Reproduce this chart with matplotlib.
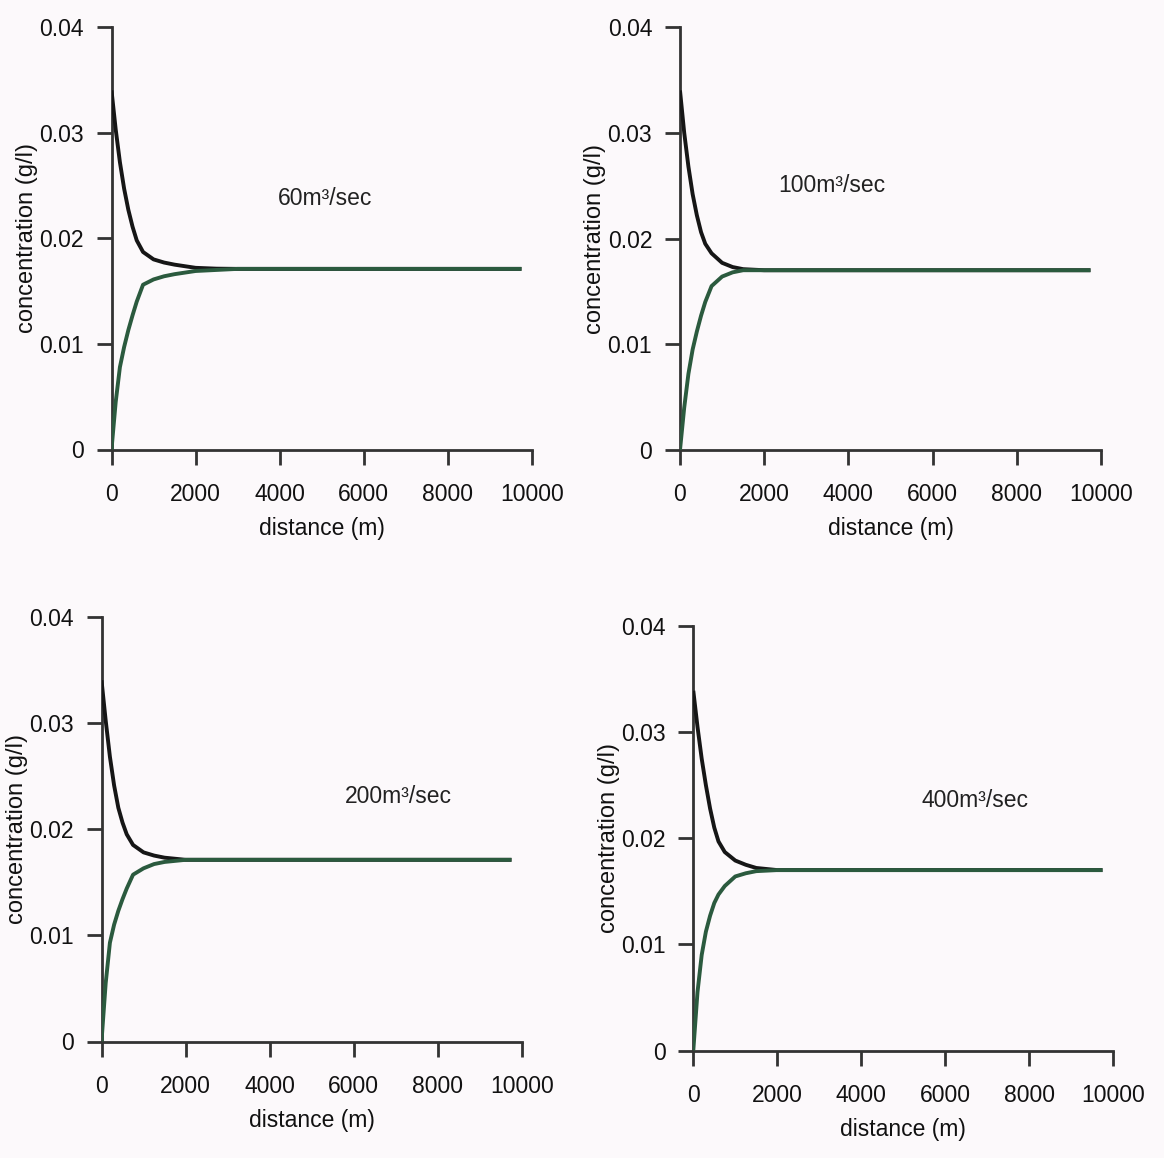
import matplotlib
matplotlib.use("Agg")
import matplotlib.pyplot as plt

plt.rcParams['font.family'] = ['Liberation Sans', 'DejaVu Sans']

distance = [0, 100, 200, 300, 400, 500, 600, 750, 1000, 1250, 1500, 2000,
            2500, 3000, 4000, 6000, 8000, 9750]

flow_labels = ["60m³/sec", "100m³/sec", "200m³/sec", "400m³/sec"]

upper_60 = [0.0340, 0.0303, 0.0272, 0.0247, 0.0227, 0.0211, 0.0198, 0.0187, 0.0180,
            0.0177, 0.0175, 0.0172, 0.01712, 0.0171, 0.0171, 0.0171, 0.0171, 0.0171]
lower_60 = [0.0, 0.0045, 0.0078, 0.0097, 0.0113, 0.0127, 0.0140, 0.0156, 0.0161,
            0.0164, 0.0166, 0.0169, 0.0170, 0.0171, 0.0171, 0.0171, 0.0171, 0.0171]

upper_100 = [0.0340, 0.0300, 0.0268, 0.0242, 0.0222, 0.0206, 0.0195, 0.0186, 0.0177,
             0.0173, 0.0171, 0.0170, 0.0170, 0.0170, 0.0170, 0.0170, 0.0170, 0.0170]
lower_100 = [0.0, 0.0040, 0.0072, 0.0095, 0.0112, 0.0127, 0.0140, 0.0155, 0.0164,
             0.0168, 0.0170, 0.0170, 0.0170, 0.0170, 0.0170, 0.0170, 0.0170, 0.0170]

upper_200 = [0.0340, 0.0302, 0.0268, 0.0241, 0.0220, 0.0206, 0.0195, 0.0185, 0.0178,
             0.0175, 0.0173, 0.0171, 0.0171, 0.0171, 0.0171, 0.0171, 0.0171, 0.0171]
lower_200 = [0.0, 0.0055, 0.0093, 0.0110, 0.0123, 0.0134, 0.0144, 0.0157, 0.0163,
             0.0167, 0.0169, 0.0171, 0.0171, 0.0171, 0.0171, 0.0171, 0.0171, 0.0171]

upper_400 = [0.0339, 0.0305, 0.0275, 0.0250, 0.0228, 0.0210, 0.0197, 0.0187, 0.0179,
             0.0175, 0.0172, 0.0170, 0.0170, 0.0170, 0.0170, 0.0170, 0.0170, 0.0170]
lower_400 = [0.0, 0.0055, 0.0090, 0.0112, 0.0127, 0.0139, 0.0147, 0.0155, 0.0164,
             0.0167, 0.0169, 0.0170, 0.0170, 0.0170, 0.0170, 0.0170, 0.0170, 0.0170]

x_ticks = [0, 2000, 4000, 6000, 8000, 10000]
y_ticks = [0, 0.01, 0.02, 0.03, 0.04]
y_tick_labels = ["0", "0.01", "0.02", "0.03", "0.04"]

uppers = [upper_60, upper_100, upper_200, upper_400]
lowers = [lower_60, lower_100, lower_200, lower_400]
label_pos = [(5077, 0.0238), (3610, 0.0250), (7051, 0.0231), (6712, 0.0236)]

W, H = 1164, 1158
fig = plt.figure(figsize=(W / 100, H / 100), dpi=100)
bg = "#fcf9fb"
fig.patch.set_facecolor(bg)

# axes rectangles in pixel coords: (x0, x1, y_top, y_bottom)
rects = [(111.5, 532, 27, 449.5), (680, 1101, 27, 450),
         (101.5, 522, 616.5, 1041.5), (693.3, 1113, 626, 1050.5)]

axis_col = "#333333"
txt_col = "#111111"
fs = 16.5
for i, (x0, x1, yt, yb) in enumerate(rects):
    ax = fig.add_axes([x0 / W, 1 - yb / H, (x1 - x0) / W, (yb - yt) / H])
    ax.set_facecolor("none")
    ax.plot(distance, uppers[i], color="#161616", lw=2.8, solid_capstyle="butt", zorder=3)
    ax.plot(distance, lowers[i], color="#2b5a3e", lw=2.8, solid_capstyle="butt", zorder=3)
    ax.set_xlim(0, 10000)
    ax.set_ylim(0, 0.04)
    ax.set_xticks(x_ticks)
    ax.set_xticklabels([str(t) for t in x_ticks])
    ax.set_yticks(y_ticks)
    ax.set_yticklabels(y_tick_labels)
    for s in ["top", "right"]:
        ax.spines[s].set_visible(False)
    for s in ["left", "bottom"]:
        ax.spines[s].set_color(axis_col)
        ax.spines[s].set_linewidth(2.0)
    ax.tick_params(axis="both", direction="out", length=11, width=2.0,
                   color=axis_col, labelsize=fs, labelcolor=txt_col)
    ax.tick_params(axis="x", pad=13)
    ax.tick_params(axis="y", pad=9)
    ax.set_xlabel("distance (m)", fontsize=fs, color=txt_col, labelpad=8)
    ax.set_ylabel("concentration (g/l)", fontsize=17, color=txt_col, labelpad=1)
    ax.text(label_pos[i][0], label_pos[i][1], flow_labels[i], fontsize=16.5,
            color="#222222", ha="center", va="center")

fig.savefig("out.png", dpi=100, facecolor=bg)
